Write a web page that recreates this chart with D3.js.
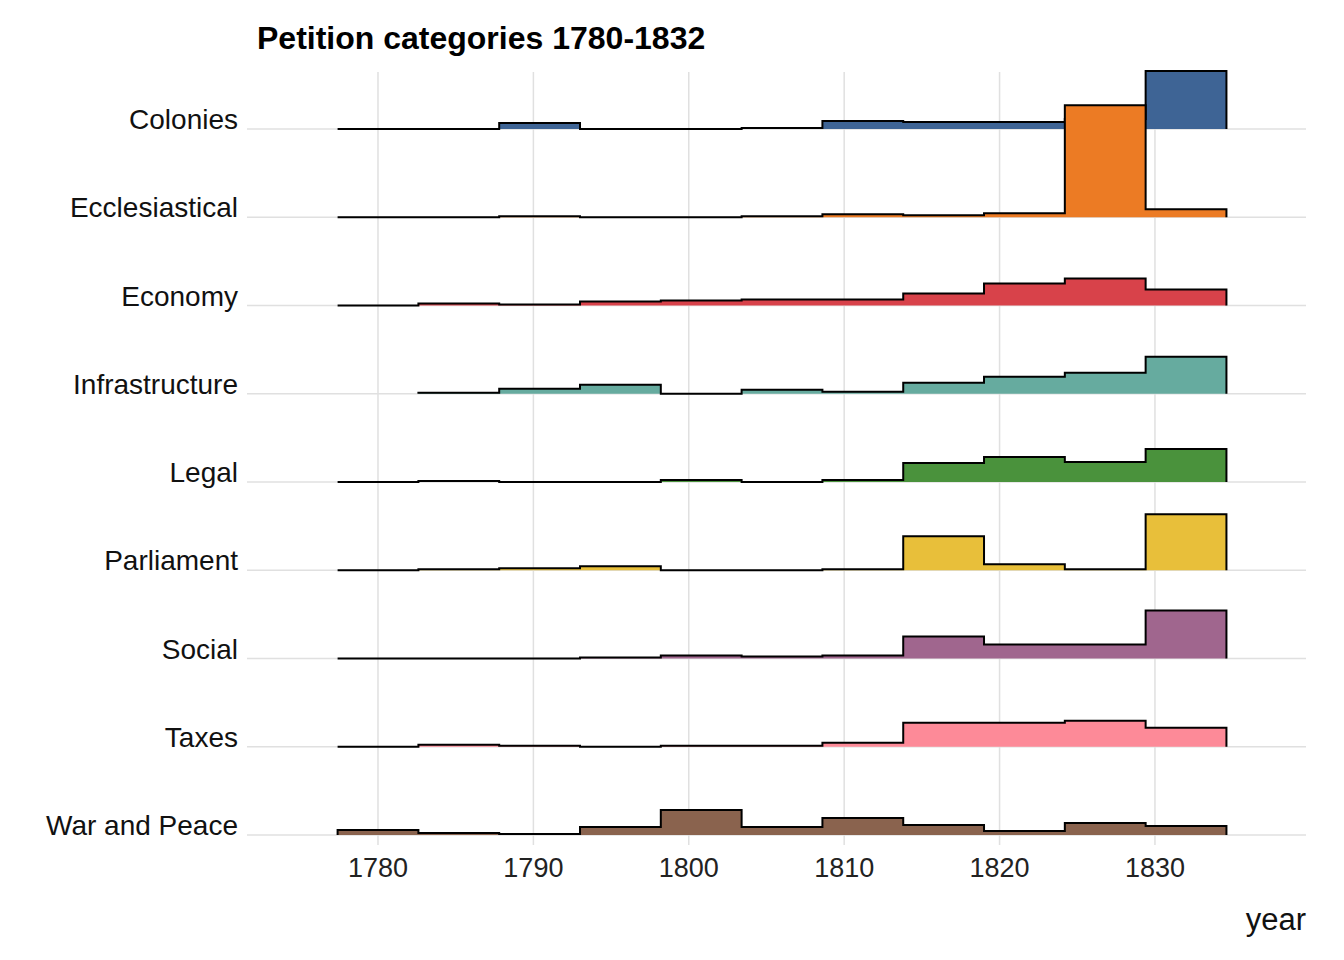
<!DOCTYPE html>
<html><head><meta charset="utf-8">
<script src="https://cdn.jsdelivr.net/npm/d3@7"></script>
<style>body{margin:0;background:#fff;font-family:"Liberation Sans",Arial,sans-serif}</style>
</head><body>
<script>
// Data
var categories = ["Colonies","Ecclesiastical","Economy","Infrastructure","Legal","Parliament","Social","Taxes","War and Peace"];
var colors = ["#3e6495","#ec7b24","#d8424a","#66ab9f","#4a923c","#e8bf3a","#a0668e","#fd8a98","#8a634e"];
var binEdges = [1777.4,1782.6,1787.8,1793.0,1798.2,1803.4,1808.6,1813.8,1819.0,1824.2,1829.4,1834.6];
var counts = [
  [0,0,6,0,0,1,8,7,7,10,58],
  [0,0,1,0,0,1,3,2,4,112,8],
  [0,2,1,4,5,6,6,12,22,27,16],
  [null,1,5,9,0,4,2,11,17,21,37],
  [0,1,0,0,2,0,2,19,25,20,33],
  [0,1,2,4,0,0,1,34,6,1,56],
  [0,0,0,1,3,2,3,22,14,14,48],
  [0,2,1,0,1,1,4,24,24,26,19],
  [5,2,1,8,25,8,17,10,4,12,9]
];
var xTicks = [1780,1790,1800,1810,1820,1830];

var width = 1344, height = 960;
var left = 247, right = 1306;

var svg = d3.select("body").append("svg").attr("width", width).attr("height", height);

var x = d3.scaleLinear().domain([1771.57, 1839.72]).range([left, right]);
var y = d3.scalePoint().domain(categories.slice().reverse()).range([835, 129]);
var h = d3.scaleLinear().domain([0, 1]).range([0, 1]); // pixels per count

// vertical grid
svg.selectAll(".vg").data(xTicks).enter().append("line")
    .attr("x1", d => x(d)).attr("x2", d => x(d))
    .attr("y1", 72).attr("y2", 845)
    .attr("stroke", "#e0e0e0").attr("stroke-width", 1.5);
// baselines
svg.selectAll(".hg").data(categories).enter().append("line")
    .attr("x1", left).attr("x2", right)
    .attr("y1", d => y(d)).attr("y2", d => y(d))
    .attr("stroke", "#e0e0e0").attr("stroke-width", 1.5);

// ridges, drawn top to bottom so lower ones overlap upper ones
categories.forEach(function (cat, i) {
    var base = y(cat);
    var pts = [];
    var started = false;
    counts[i].forEach(function (c, j) {
        if (c === null) return;
        if (!started) { pts.push([x(binEdges[j]), base]); started = true; }
        pts.push([x(binEdges[j]), base - h(c)]);
        pts.push([x(binEdges[j + 1]), base - h(c)]);
    });
    pts.push([x(binEdges[binEdges.length - 1]), base]);
    var line = d3.line();
    svg.append("path").attr("d", line(pts) + "Z")
        .attr("fill", colors[i]).attr("stroke", "none");
    svg.append("path").attr("d", line(pts))
        .attr("fill", "none").attr("stroke", "#000").attr("stroke-width", 2);
    svg.append("text").attr("x", 238).attr("y", base - 0)
        .attr("text-anchor", "end").attr("font-size", 28).attr("fill", "#111")
        .text(cat);
});

// x axis labels
svg.selectAll(".xt").data(xTicks).enter().append("text")
    .attr("x", d => x(d)).attr("y", 877)
    .attr("text-anchor", "middle").attr("font-size", 27).attr("fill", "#222")
    .text(d => d);

svg.append("text").attr("x", 1306).attr("y", 930).attr("text-anchor", "end")
    .attr("font-size", 31).attr("fill", "#111").text("year");

svg.append("text").attr("x", 257).attr("y", 49).attr("font-size", 32)
    .attr("font-weight", "bold").attr("fill", "#000").text("Petition categories 1780-1832");
</script>
</body></html>
